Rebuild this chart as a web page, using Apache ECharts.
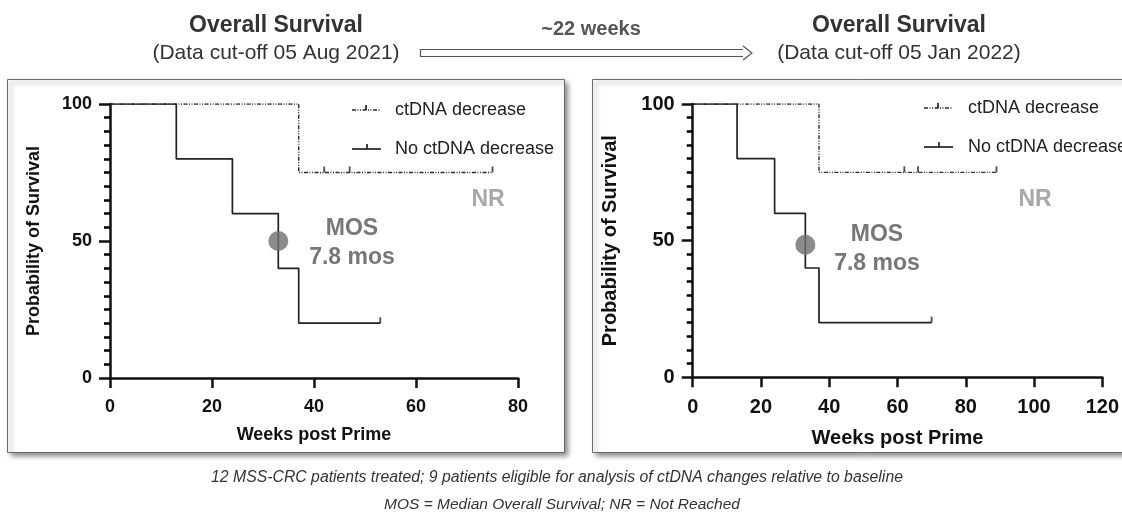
<!DOCTYPE html>
<html>
<head>
<meta charset="utf-8">
<script src="https://cdn.jsdelivr.net/npm/echarts@6/dist/echarts.min.js"></script>
<style>
html,body{margin:0;padding:0;background:#fff;}
#chart{width:1122px;height:513px;}
</style>
</head>
<body>
<div id="chart"></div>
<script>
// ---- Data ----
// Left panel: data cut-off 05 Aug 2021
const leftNoDecWeeks = [0, 13, 24, 33, 37, 53];
const leftNoDecSurv  = [100, 80, 60, 40, 20, 20];
const leftNoDecCensorWeeks = [53];
const leftNoDecCensorSurv  = [20];
const leftDecWeeks = [0, 37, 75];
const leftDecSurv  = [100, 75, 75];
const leftDecCensorWeeks = [42, 47, 75];
const leftDecCensorSurv  = [75, 75, 75];
const leftMedian = [33, 50];
const leftXTicks = [0, 20, 40, 60, 80];

// Right panel: data cut-off 05 Jan 2022
const rightNoDecWeeks = [0, 13, 24, 33, 37, 70];
const rightNoDecSurv  = [100, 80, 60, 40, 20, 20];
const rightNoDecCensorWeeks = [70];
const rightNoDecCensorSurv  = [20];
const rightDecWeeks = [0, 37, 89];
const rightDecSurv  = [100, 75, 75];
const rightDecCensorWeeks = [62, 66, 89];
const rightDecCensorSurv  = [75, 75, 75];
const rightMedian = [33, 48.5];
const rightXTicks = [0, 20, 40, 60, 80, 100, 120];

const yTicks = [0, 50, 100];
const seriesNames = ['ctDNA decrease', 'No ctDNA decrease'];

// ---- helpers ----
const FONT = '"Liberation Sans", Arial, Helvetica, sans-serif';
const zip = (a, b) => a.map((v, i) => [v, b[i]]);
const DASH = [4, 1.5, 1, 1.5, 1, 1.5];

function xAxisCfg(grid, ticks, fs, nameFs, nameGap) {
  return {
    gridIndex: grid, type: 'value',
    min: ticks[0], max: ticks[ticks.length - 1], interval: ticks[1] - ticks[0],
    name: 'Weeks post Prime', nameLocation: 'middle', nameGap: nameGap,
    nameTextStyle: {fontFamily: FONT, fontWeight: 'bold', fontSize: nameFs, color: '#111'},
    axisLine: {show: true, onZero: false, lineStyle: {color: '#111', width: 2.5}},
    axisTick: {show: true, length: 10, lineStyle: {color: '#111', width: 2.5}},
    axisLabel: {fontFamily: FONT, fontWeight: 'bold', fontSize: fs, color: '#111', margin: 20},
    splitLine: {show: false}
  };
}
function yAxisCfg(grid, fs, nameFs, nameGap) {
  return {
    gridIndex: grid, type: 'value',
    min: yTicks[0], max: yTicks[yTicks.length - 1], interval: yTicks[1] - yTicks[0],
    name: 'Probability of Survival', nameLocation: 'middle', nameGap: nameGap, nameRotate: 90,
    nameTextStyle: {fontFamily: FONT, fontWeight: 'bold', fontSize: nameFs, color: '#111'},
    axisLine: {show: true, onZero: false, lineStyle: {color: '#111', width: 2.5}},
    axisTick: {show: true, length: 11, lineStyle: {color: '#111', width: 2.5}},
    minorTick: {show: true, splitNumber: 10, length: 6, lineStyle: {color: '#000', width: 2.5}},
    axisLabel: {fontFamily: FONT, fontWeight: 'bold', fontSize: fs, color: '#111', margin: 18},
    splitLine: {show: false}, minorSplitLine: {show: false}
  };
}
function panelSeries(idx, noX, noY, noCX, noCY, decX, decY, decCX, decCY, med) {
  return [
    {name: seriesNames[0], type: 'line', step: 'end', xAxisIndex: idx, yAxisIndex: idx,
     symbol: 'none', data: zip(decX, decY), z: 3,
     lineStyle: {color: '#2a2a2a', width: 1.4, type: DASH}},
    {name: seriesNames[1], type: 'line', step: 'end', xAxisIndex: idx, yAxisIndex: idx,
     symbol: 'none', data: zip(noX, noY), z: 4,
     lineStyle: {color: '#222', width: 1.7}},
    {type: 'scatter', xAxisIndex: idx, yAxisIndex: idx, data: zip(decCX, decCY),
     symbol: 'rect', symbolSize: [1.8, 6], symbolOffset: [0, -3], z: 5,
     itemStyle: {color: '#222'}},
    {type: 'scatter', xAxisIndex: idx, yAxisIndex: idx, data: zip(noCX, noCY),
     symbol: 'rect', symbolSize: [1.8, 6], symbolOffset: [0, -3], z: 5,
     itemStyle: {color: '#222'}},
    {type: 'scatter', xAxisIndex: idx, yAxisIndex: idx, data: [med],
     symbol: 'circle', symbolSize: 20, z: 6,
     itemStyle: {color: '#6e6e6e'}}
  ];
}
function legendGraphics(lx, ly1, ly2, tx, fs) {
  return [
    {type: 'line', z: 50, shape: {x1: lx, y1: ly1, x2: lx + 28, y2: ly1},
     style: {stroke: '#2a2a2a', lineWidth: 1.3, lineDash: DASH}},
    {type: 'line', z: 50, shape: {x1: lx + 14, y1: ly1, x2: lx + 14, y2: ly1 - 5},
     style: {stroke: '#222', lineWidth: 1.7}},
    {type: 'line', z: 50, shape: {x1: lx, y1: ly2, x2: lx + 29, y2: ly2},
     style: {stroke: '#222', lineWidth: 1.7}},
    {type: 'line', z: 50, shape: {x1: lx + 15, y1: ly2, x2: lx + 15, y2: ly2 - 5},
     style: {stroke: '#222', lineWidth: 1.7}},
    {type: 'text', z: 50, x: tx, y: ly1, style: {text: seriesNames[0], font: fs + 'px ' + FONT, fill: '#222', textAlign: 'left', textVerticalAlign: 'middle'}},
    {type: 'text', z: 50, x: tx, y: ly2, style: {text: seriesNames[1], font: fs + 'px ' + FONT, fill: '#222', textAlign: 'left', textVerticalAlign: 'middle'}}
  ];
}
function txt(x, y, text, font, fill) {
  return {type: 'text', z: 50, x: x, y: y,
    style: {text: text, font: font, fill: fill, textAlign: 'center', textVerticalAlign: 'middle'}};
}

const graphics = [
  // panel boxes
  {type: 'rect', z: -100, shape: {x: 7.5, y: 79.5, width: 557, height: 373},
   style: {fill: '#fff', stroke: '#6a6a6a', lineWidth: 1, shadowBlur: 5, shadowOffsetX: 3, shadowOffsetY: 3, shadowColor: 'rgba(0,0,0,0.45)'}},
  {type: 'rect', z: -100, shape: {x: 592.5, y: 79.5, width: 600, height: 373},
   style: {fill: '#fff', stroke: '#6a6a6a', lineWidth: 1, shadowBlur: 5, shadowOffsetX: 3, shadowOffsetY: 3, shadowColor: 'rgba(0,0,0,0.45)'}},
  // titles
  txt(276, 26, 'Overall Survival', 'bold 23px ' + FONT, '#333'),
  txt(276, 53, '(Data cut-off 05 Aug 2021)', '21px ' + FONT, '#333'),
  txt(899, 26, 'Overall Survival', 'bold 23px ' + FONT, '#333'),
  txt(899, 53, '(Data cut-off 05 Jan 2022)', '21px ' + FONT, '#333'),
  txt(591, 29, '~22 weeks', 'bold 20px ' + FONT, '#555'),
  // hollow arrow
  {type: 'polyline', z: 50, shape: {points: [[743, 49.5], [420.5, 49.5], [420.5, 56.5], [743, 56.5]]},
   style: {stroke: '#555', lineWidth: 1.2, fill: null}},
  {type: 'polyline', z: 50, shape: {points: [[743, 46], [752, 53], [743, 60]]},
   style: {stroke: '#555', lineWidth: 1.2, fill: null}},
  // annotations
  txt(488, 200, 'NR', 'bold 23px ' + FONT, '#a8a8a8'),
  txt(352, 229, 'MOS', 'bold 23px ' + FONT, '#777'),
  txt(352, 258, '7.8 mos', 'bold 23px ' + FONT, '#777'),
  txt(1035, 200, 'NR', 'bold 23px ' + FONT, '#a8a8a8'),
  txt(877, 235, 'MOS', 'bold 23px ' + FONT, '#777'),
  txt(877, 264, '7.8 mos', 'bold 23px ' + FONT, '#777'),
  // footnotes
  txt(557, 478, '12 MSS-CRC patients treated; 9 patients eligible for analysis of ctDNA changes relative to baseline', 'italic 15.8px ' + FONT, '#333'),
  txt(562, 505, 'MOS = Median Overall Survival; NR = Not Reached', 'italic 15.5px ' + FONT, '#333')
].concat(legendGraphics(352, 110, 149, 395, 18))
 .concat(legendGraphics(924, 108, 147, 968, 18));

const chart = echarts.init(document.getElementById('chart'), null, {renderer: 'canvas'});
chart.setOption({
  animation: false,
  backgroundColor: '#fff',
  grid: [
    {left: 110, top: 104, width: 408, height: 274},
    {left: 692.7, top: 104, width: 411.6, height: 273.3}
  ],
  xAxis: [xAxisCfg(0, leftXTicks, 18, 18, 48), xAxisCfg(1, rightXTicks, 20, 20, 51)],
  yAxis: [yAxisCfg(0, 18, 18, 67), yAxisCfg(1, 20, 20, 72)],
  graphic: graphics,
  series: []
    .concat(panelSeries(0, leftNoDecWeeks, leftNoDecSurv, leftNoDecCensorWeeks, leftNoDecCensorSurv,
                        leftDecWeeks, leftDecSurv, leftDecCensorWeeks, leftDecCensorSurv, leftMedian))
    .concat(panelSeries(1, rightNoDecWeeks, rightNoDecSurv, rightNoDecCensorWeeks, rightNoDecCensorSurv,
                        rightDecWeeks, rightDecSurv, rightDecCensorWeeks, rightDecCensorSurv, rightMedian))
});
</script>
</body>
</html>
